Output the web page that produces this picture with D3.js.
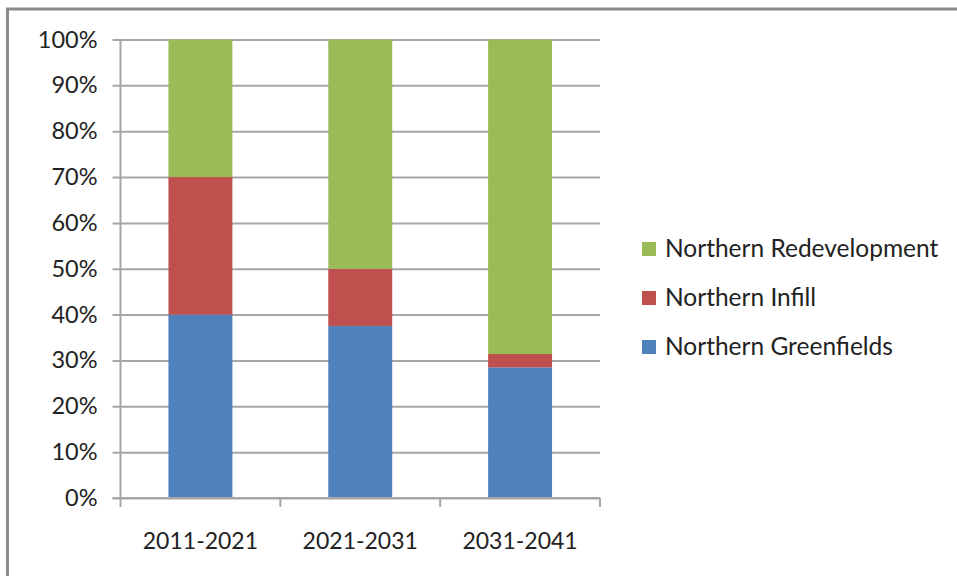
<!DOCTYPE html>
<html>
<head>
<meta charset="utf-8">
<script src="https://cdn.jsdelivr.net/npm/d3@7/dist/d3.min.js"></script>
<style>
  html, body { margin: 0; padding: 0; background: #fff; }
  svg { display: block; }
  text { font-family: Lato, "Open Sans", sans-serif; fill: #222; }
</style>
</head>
<body>
<svg id="chart" width="957" height="576"></svg>
<script>
// Share of growth by development type, per decade (percent)
const periods = ["2011-2021", "2021-2031", "2031-2041"];
const seriesNames = ["Northern Greenfields", "Northern Infill", "Northern Redevelopment"];
const greenfields = [40, 37.5, 28.5];
const infill = [30, 12.5, 2.9];
const redevelopment = [30, 50, 68.6];
const yTickLabels = ["0%", "10%", "20%", "30%", "40%", "50%", "60%", "70%", "80%", "90%", "100%"];
const colors = ["#4F81BD", "#C0504D", "#9BBB59"];

const rows = periods.map((p, i) => ({
  period: p,
  "Northern Greenfields": greenfields[i],
  "Northern Infill": infill[i],
  "Northern Redevelopment": redevelopment[i]
}));

const svg = d3.select("#chart");
const W = 957, H = 576;

// outer frame
svg.append("rect")
  .attr("x", 7.5).attr("y", 9)
  .attr("width", W + 10).attr("height", H + 10)
  .attr("fill", "none").attr("stroke", "#8c8c8c").attr("stroke-width", 3);

const plot = { left: 120.5, right: 600, top: 39.5, bottom: 498 };

const x = d3.scaleBand()
  .domain(periods)
  .range([plot.left, plot.right])
  .paddingInner(0.6)
  .paddingOuter(0.3);

const y = d3.scaleLinear().domain([0, 100]).range([plot.bottom, plot.top]);

const gridColor = "#a6a6a6";

// horizontal gridlines with tick marks, and y labels
const yTicks = d3.range(0, 101, 10);
const yAxis = d3.axisLeft(y)
  .tickValues(yTicks)
  .tickSize(-(plot.right - plot.left))
  .tickSizeOuter(0)
  .tickPadding(23)
  .tickFormat((d, i) => yTickLabels[i]);

const gy = svg.append("g")
  .attr("transform", `translate(${plot.left},0)`)
  .call(yAxis);
gy.select(".domain").remove();
gy.selectAll(".tick line")
  .attr("x1", -8)
  .attr("stroke", gridColor).attr("stroke-width", 2);
gy.selectAll(".tick text")
  .attr("font-size", 23.5).attr("fill", "#222");

// stacked bars
const stack = d3.stack().keys(seriesNames)(rows);
svg.append("g").selectAll("g")
  .data(stack)
  .join("g")
  .attr("fill", (d, i) => colors[i])
  .selectAll("rect")
  .data(d => d)
  .join("rect")
  .attr("x", d => x(d.data.period))
  .attr("width", x.bandwidth())
  .attr("y", d => y(d[1]))
  .attr("height", d => y(d[0]) - y(d[1]));

// y axis line
svg.append("line")
  .attr("x1", plot.left).attr("x2", plot.left)
  .attr("y1", plot.top).attr("y2", plot.bottom)
  .attr("stroke", gridColor).attr("stroke-width", 2);

// x axis with category boundary ticks
const xAxisG = svg.append("g")
  .attr("transform", `translate(0,${plot.bottom})`);
xAxisG.append("line")
  .attr("x1", plot.left - 8).attr("x2", plot.right)
  .attr("stroke", gridColor).attr("stroke-width", 2);
const step = x.step();
const boundaries = d3.range(periods.length + 1).map(i => plot.left + i * step);
xAxisG.selectAll("line.bt")
  .data(boundaries)
  .join("line")
  .attr("class", "bt")
  .attr("x1", d => d).attr("x2", d => d)
  .attr("y1", 0).attr("y2", 9)
  .attr("stroke", gridColor).attr("stroke-width", 2);
xAxisG.selectAll("text")
  .data(periods)
  .join("text")
  .attr("x", d => x(d) + x.bandwidth() / 2)
  .attr("y", 51)
  .attr("text-anchor", "middle")
  .attr("font-size", 23)
  .text(d => d);

// legend (top entry = top of stack)
const legendItems = seriesNames.map((n, i) => ({ name: n, color: colors[i] })).reverse();
const legend = svg.append("g").attr("transform", "translate(642,0)");
const lg = legend.selectAll("g")
  .data(legendItems)
  .join("g")
  .attr("transform", (d, i) => `translate(0,${242 + i * 49})`);
lg.append("rect")
  .attr("width", 14).attr("height", 14)
  .attr("fill", d => d.color);
lg.append("text")
  .attr("x", 23).attr("y", 15)
  .attr("font-size", 24.5)
  .text(d => d.name);
</script>
</body>
</html>
